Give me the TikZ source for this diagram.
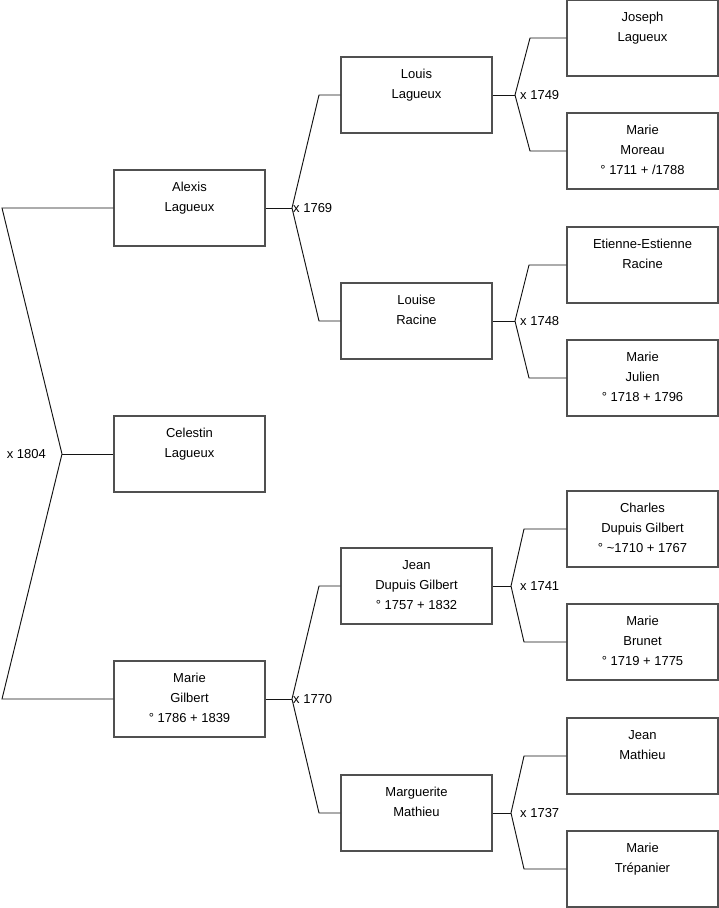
\documentclass[tikz,border=0pt]{standalone}
\usepackage{fontspec}
\setmainfont{Liberation Sans}
\definecolor{boxc}{RGB}{80,80,80}
\definecolor{linec}{RGB}{20,20,20}
\tikzset{
  person/.style={draw=boxc, line width=1.1pt, fill=white, inner sep=0pt,
    minimum width=151pt, minimum height=76pt,
    execute at begin node={\begin{minipage}[c][76pt][t]{151pt}\centering\fontsize{13pt}{20pt}\selectfont\rule{0pt}{21.3pt}},
    execute at end node={\end{minipage}}},
  conn/.style={draw=linec, line width=0.95pt},
  marr/.style={inner sep=1pt, font=\fontsize{13pt}{16pt}\selectfont, text=black}
}
\begin{document}
\begin{tikzpicture}[x=1pt,y=-1pt]
\useasboundingbox (0,0) rectangle (719,908);
% generation 1
\node[person] (alexis)   at (189.5,208) {Alexis\\Lagueux};
\node[person] (celestin) at (189.5,454) {Celestin\\Lagueux};
\node[person] (gilbert)  at (189.5,699) {Marie\\Gilbert\\° 1786 + 1839};
% generation 2
\node[person] (louis)    at (416.5,95)  {Louis\\Lagueux};
\node[person] (louise)   at (416.5,321) {Louise\\Racine};
\node[person] (jean)     at (416.5,586) {Jean\\Dupuis Gilbert\\° 1757 + 1832};
\node[person] (marg)     at (416.5,813) {Marguerite\\Mathieu};
% generation 3
\node[person] (joseph)   at (642.5,38)  {Joseph\\Lagueux};
\node[person] (moreau)   at (642.5,151) {Marie\\Moreau\\° 1711 + /1788};
\node[person] (etienne)  at (642.5,265) {Etienne-Estienne\\Racine};
\node[person] (julien)   at (642.5,378) {Marie\\Julien\\° 1718 + 1796};
\node[person] (charles)  at (642.5,529) {Charles\\Dupuis Gilbert\\° \textasciitilde 1710 + 1767};
\node[person] (brunet)   at (642.5,642) {Marie\\Brunet\\° 1719 + 1775};
\node[person] (mathieu)  at (642.5,756) {Jean\\Mathieu};
\node[person] (trepan)   at (642.5,869) {Marie\\Trépanier};
% junction points
\coordinate (v0) at (62,454);
\coordinate (t0) at (2,208);
\coordinate (b0) at (2,699);
\coordinate (v1) at (292,208);
\coordinate (t1) at (319,95);
\coordinate (b1) at (319,321);
\coordinate (v2) at (292,699);
\coordinate (t2) at (319,586);
\coordinate (b2) at (319,813);
\coordinate (v3) at (515,95);
\coordinate (t3) at (530,38);
\coordinate (b3) at (530,151);
\coordinate (v4) at (515,321);
\coordinate (t4) at (529,265);
\coordinate (b4) at (529,378);
\coordinate (v5) at (511,586);
\coordinate (t5) at (524,529);
\coordinate (b5) at (524,642);
\coordinate (v6) at (511,813);
\coordinate (t6) at (524,756);
\coordinate (b6) at (524,869);
% connectors
\draw[conn] (alexis.west) -- (t0) -- (v0) -- (b0) -- (gilbert.west);
\draw[conn] (v0) -- (celestin.west);
\draw[conn] (alexis.east) -- (v1);
\draw[conn] (louis.west) -- (t1) -- (v1) -- (b1) -- (louise.west);
\draw[conn] (gilbert.east) -- (v2);
\draw[conn] (jean.west) -- (t2) -- (v2) -- (b2) -- (marg.west);
\draw[conn] (louis.east) -- (v3);
\draw[conn] (joseph.west) -- (t3) -- (v3) -- (b3) -- (moreau.west);
\draw[conn] (louise.east) -- (v4);
\draw[conn] (etienne.west) -- (t4) -- (v4) -- (b4) -- (julien.west);
\draw[conn] (jean.east) -- (v5);
\draw[conn] (charles.west) -- (t5) -- (v5) -- (b5) -- (brunet.west);
\draw[conn] (marg.east) -- (v6);
\draw[conn] (mathieu.west) -- (t6) -- (v6) -- (b6) -- (trepan.west);
% marriage labels
\node[marr, anchor=east] (m0) at ([xshift=-15pt]v0) {x 1804};
\node[marr, anchor=west] (m1) at (v1) {x 1769};
\node[marr, anchor=west] (m2) at (v2) {x 1770};
\node[marr, anchor=west] (m3) at ([xshift=4pt]v3) {x 1749};
\node[marr, anchor=west] (m4) at ([xshift=4pt]v4) {x 1748};
\node[marr, anchor=west] (m5) at ([xshift=8pt]v5) {x 1741};
\node[marr, anchor=west] (m6) at ([xshift=8pt]v6) {x 1737};
\end{tikzpicture}
\end{document}
